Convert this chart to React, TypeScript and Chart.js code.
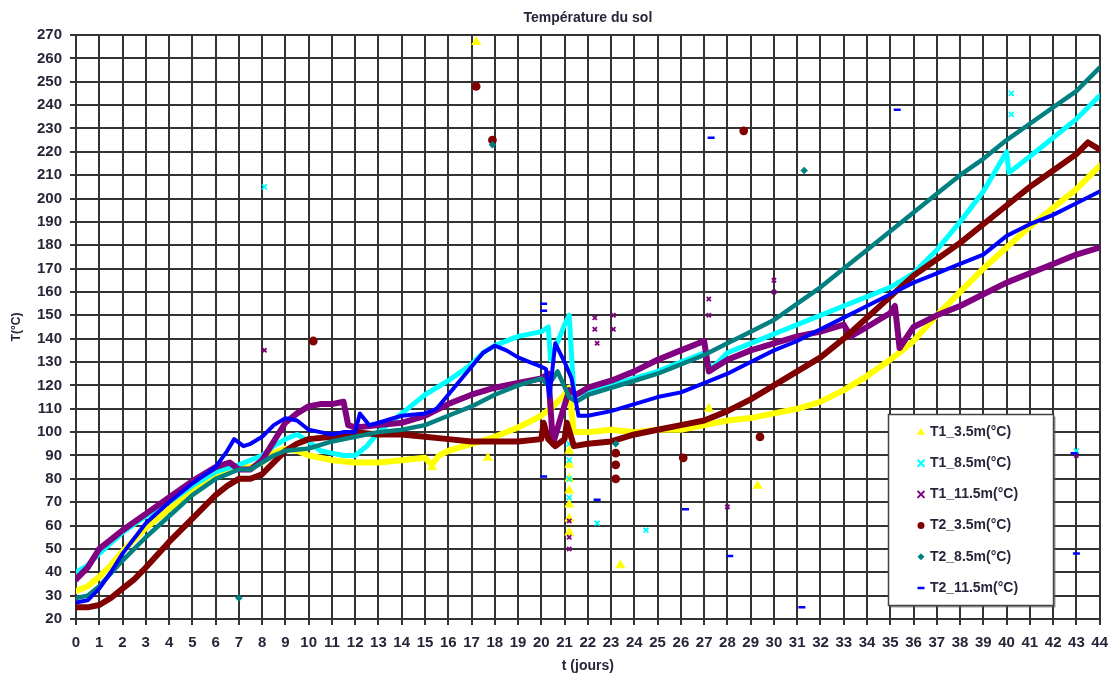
import React, { useEffect, useRef } from 'react';
import { Chart, registerables } from 'chart.js';

Chart.register(...registerables);

// ---------- Data ----------
const chartTitle = 'Température du sol';
const xAxisTitle = 't (jours)';
const yAxisTitle = 'T(°C)';
const seriesNames = ['T1_3.5m(°C)', 'T1_8.5m(°C)', 'T1_11.5m(°C)', 'T2_3.5m(°C)', 'T2_8.5m(°C)', 'T2_11.5m(°C)'];
const seriesColors = ['#ffff00', '#00ffff', '#800080', '#800000', '#008080', '#0000ff'];

// T1_3.5m
const t1a_days = [0, 0.5, 1, 1.5, 2, 2.5, 3, 3.5, 4, 4.5, 5, 5.5, 6, 6.5, 7, 7.5, 8, 8.5, 9, 9.5, 10, 10.5, 11, 12, 13, 14, 15, 15.3, 15.6, 16, 17, 18, 19, 20, 20.5, 21, 21.2, 21.4, 22, 23, 24, 25, 26, 27, 28, 29, 30, 31, 32, 33, 34, 35, 35.4, 36, 37, 38, 39, 40, 41, 42, 43, 44];
const t1a_vals = [32, 34, 38, 43, 49, 54, 59, 63, 67, 71, 75, 78, 81, 83, 85, 85, 87, 91, 93, 92, 90, 89, 88, 87, 87, 88, 89, 86, 90, 92, 95, 98, 102, 107, 111, 116, 119, 100, 100, 101, 100, 101, 101, 103, 105, 106, 108, 110, 113, 118, 124, 131, 134, 139, 150, 160, 170, 179, 188, 196, 204, 214];
// T1_8.5m
const t1b_days = [0, 0.5, 1, 2, 3, 4, 5, 6, 7, 8, 8.5, 9, 9.5, 10, 10.5, 11, 11.5, 12, 12.5, 13, 13.5, 14, 14.5, 15, 16, 17, 17.5, 18, 19, 20, 20.3, 20.4, 21, 21.2, 21.4, 22, 23, 24, 25, 26, 27, 27.3, 28, 29, 30, 31, 32, 33, 34, 35, 36, 37, 38, 39, 40, 40.1, 41, 42, 43, 44];
const t1b_vals = [40, 43, 48, 57, 64, 70, 77, 83, 86, 90, 94, 97, 99, 96, 92, 91, 90, 90, 94, 100, 104, 108, 112, 116, 122, 129, 134, 137, 141, 143, 145, 131, 146, 150, 116, 117, 120, 123, 126, 130, 134, 127, 134, 138, 142, 146, 150, 154, 158, 162, 168, 178, 190, 203, 220, 211, 218, 226, 234, 244];
// T1_11.5m
const t1c_days = [0, 0.5, 1, 1.5, 2, 3, 4, 5, 6, 6.6, 7, 7.5, 8, 8.5, 9, 9.5, 10, 10.5, 11, 11.5, 11.7, 12, 13, 14, 15, 16, 17, 18, 19, 20, 20.3, 20.5, 20.8, 21.2, 21.5, 22, 23, 24, 25, 26, 27, 27.2, 28, 29, 30, 31, 32, 33, 33.3, 34, 35, 35.2, 35.4, 36, 37, 38, 39, 40, 41, 42, 43, 44];
const t1c_vals = [37, 42, 50, 54, 58, 65, 72, 79, 85, 87, 84, 84, 88, 96, 104, 108, 111, 112, 112, 113, 103, 102, 103, 104, 107, 112, 116, 119, 121, 123, 125, 95, 105, 118, 116, 119, 122, 126, 131, 135, 139, 126, 131, 135, 138, 141, 143, 146, 141, 145, 151, 154, 136, 145, 150, 154, 159, 164, 168, 172, 176, 179];
// T2_3.5m
const t2a_days = [0, 0.5, 1, 1.5, 2, 2.5, 3, 4, 5, 6, 6.5, 7, 7.5, 8, 8.5, 9, 9.5, 10, 11, 12, 13, 14, 15, 16, 17, 18, 19, 20, 20.1, 20.3, 20.6, 21, 21.1, 21.4, 22, 23, 24, 25, 26, 27, 28, 29, 30, 31, 32, 33, 34, 35, 36, 37, 38, 39, 40, 41, 42, 43, 43.5, 44];
const t2a_vals = [25, 25, 26, 29, 33, 37, 42, 53, 63, 73, 77, 80, 80, 82, 87, 92, 95, 97, 98, 100, 99, 99, 98, 97, 96, 96, 96, 97, 104, 97, 94, 97, 104, 94, 95, 96, 99, 101, 103, 105, 109, 114, 120, 126, 132, 140, 149, 158, 167, 174, 181, 189, 197, 205, 212, 219, 224, 221];
// T2_8.5m
const t2b_days = [0, 0.5, 1, 2, 3, 4, 5, 6, 7, 7.5, 8, 8.5, 9, 10, 11, 12, 13, 14, 15, 16, 17, 18, 19, 20, 20.3, 20.7, 21.2, 21.5, 22, 23, 24, 25, 26, 27, 28, 29, 30, 31, 32, 33, 34, 35, 36, 37, 38, 39, 40, 41, 42, 43, 44];
const t2b_vals = [29, 30, 34, 45, 55, 64, 73, 80, 84, 84, 87, 90, 92, 93, 96, 98, 100, 101, 103, 107, 111, 116, 120, 123, 120, 126, 115, 113, 116, 119, 122, 125, 129, 133, 138, 143, 148, 155, 162, 170, 178, 186, 194, 202, 210, 217, 225, 232, 239, 246, 256];
// T2_11.5m
const t2c_days = [0, 0.5, 1, 1.5, 2, 3, 4, 5, 6, 6.5, 6.8, 7.2, 7.5, 8, 8.5, 9, 9.5, 10, 10.5, 11, 11.5, 12, 12.2, 12.6, 13, 14, 15, 15.5, 16, 16.5, 17, 17.5, 18, 18.5, 19, 19.5, 20, 20.2, 20.35, 20.6, 21, 21.3, 21.6, 22, 23, 24, 25, 26, 27, 28, 29, 30, 31, 32, 33, 34, 35, 36, 37, 38, 39, 40, 41, 42, 43, 44];
const t2c_vals = [27, 28, 33, 40, 48, 61, 70, 78, 85, 92, 97, 94, 95, 98, 103, 106, 105, 101, 100, 99, 100, 100, 108, 103, 104, 107, 108, 110, 116, 122, 128, 134, 137, 135, 132, 130, 128, 127, 115, 138, 130, 123, 107, 107, 109, 112, 115, 117, 121, 125, 130, 135, 139, 144, 149, 154, 159, 164, 168, 172, 176, 184, 189, 193, 198, 203];

// Isolated points (outliers)
const t1a_outX = [15.3, 17.2, 17.7, 21.2, 21.2, 21.2, 21.2, 21.2, 21.2, 21.2, 23.4, 27.2, 29.3];
const t1a_outY = [85, 267, 89, 92, 86, 80, 75, 69, 63, 57, 43, 110, 77];
const t1b_outX = [8.1, 21.2, 21.2, 21.2, 21.2, 22.4, 24.5, 40.2, 40.2, 43.0];
const t1b_outY = [205, 95, 88, 80, 72, 61, 58, 245, 236, 92];
const t1c_outX = [8.1, 21.2, 21.2, 21.2, 22.3, 22.3, 22.4, 23.1, 23.1, 27.2, 27.2, 28.0, 30.0, 30.0, 43.0];
const t1c_outY = [135, 50, 55, 62, 149, 144, 138, 150, 144, 157, 150, 68, 165, 160, 90];
const t2a_outX = [10.2, 17.2, 17.9, 23.2, 23.2, 23.2, 26.1, 28.7, 29.4];
const t2a_outY = [139, 248, 225, 80, 86, 91, 89, 229, 98];
const t2b_outX = [7.0, 17.9, 23.2, 31.3];
const t2b_outY = [29, 223, 95, 212];
const t2c_outX = [20.1, 20.1, 20.1, 22.4, 26.2, 27.3, 28.1, 31.2, 35.3, 42.9, 43.0];
const t2c_outY = [155, 152, 81, 71, 67, 226, 47, 25, 238, 91, 48];

const xMin = 0, xMax = 44, xStep = 1;
const yMin = 20, yMax = 270, yStep = 10;

// ---------- Styles ----------
const lineWidths = [6, 5, 6, 6, 4.5, 4];
const pointStyles = ['triangle', 'crossRot', 'crossRot', 'circle', 'rectRot', 'line'];
const pointRadii = [4, 3.5, 3, 3.5, 2.5, 3.5];
const drawOrder = [5, 4, 3, 2, 1, 0];
const FONT = "'Liberation Sans', Arial, sans-serif";
const TEXT_COLOR = '#26263a';
const GRID_COLOR = '#333333';

function pts(xs: number[], ys: number[]) {
  return xs.map((x, i) => ({ x, y: ys[i] }));
}

function drawMarker(ctx: CanvasRenderingContext2D, style: string, x: number, y: number, r: number, color: string) {
  ctx.save();
  ctx.fillStyle = color;
  ctx.strokeStyle = color;
  ctx.lineWidth = 2;
  ctx.beginPath();
  if (style === 'triangle') {
    ctx.moveTo(x, y - r * 1.2);
    ctx.lineTo(x + r * 1.1, y + r * 0.8);
    ctx.lineTo(x - r * 1.1, y + r * 0.8);
    ctx.closePath();
    ctx.fill();
  } else if (style === 'crossRot') {
    ctx.moveTo(x - r, y - r); ctx.lineTo(x + r, y + r);
    ctx.moveTo(x + r, y - r); ctx.lineTo(x - r, y + r);
    ctx.stroke();
  } else if (style === 'circle') {
    ctx.arc(x, y, r, 0, Math.PI * 2);
    ctx.fill();
  } else if (style === 'rectRot') {
    ctx.moveTo(x, y - r); ctx.lineTo(x + r, y); ctx.lineTo(x, y + r); ctx.lineTo(x - r, y);
    ctx.closePath();
    ctx.fill();
  } else {
    ctx.lineWidth = 2.5;
    ctx.moveTo(x - r, y); ctx.lineTo(x + r, y);
    ctx.stroke();
  }
  ctx.restore();
}

const extrasPlugin = {
  id: 'extras',
  afterDraw(chart: any) {
    const ctx = chart.ctx as CanvasRenderingContext2D;
    const area = chart.chartArea;
    ctx.save();
    // title
    ctx.fillStyle = TEXT_COLOR;
    ctx.font = `bold 14px ${FONT}`;
    ctx.textAlign = 'center';
    ctx.textBaseline = 'middle';
    ctx.fillText(chartTitle, (area.left + area.right) / 2, 18);
    // legend box
    const bx = 888.5, by = 414.5, bw = 165, bh = 191;
    ctx.fillStyle = 'rgba(80,80,80,0.6)';
    ctx.fillRect(bx + 2, by + 2, bw, bh);
    ctx.fillStyle = '#ffffff';
    ctx.fillRect(bx, by, bw, bh);
    ctx.strokeStyle = '#444';
    ctx.lineWidth = 1.5;
    ctx.strokeRect(bx, by, bw, bh);
    ctx.font = `bold 14px ${FONT}`;
    ctx.textAlign = 'left';
    ctx.textBaseline = 'middle';
    seriesNames.forEach((name, i) => {
      const y = 432 + i * 31.2;
      drawMarker(ctx, pointStyles[i], 921, y, 3.5, seriesColors[i]);
      ctx.fillStyle = TEXT_COLOR;
      ctx.fillText(name, 930, y);
    });
    ctx.restore();
  },
};

export default function App() {
  const ref = useRef<HTMLCanvasElement>(null);
  useEffect(() => {
    if (!ref.current) return;
    const lines = [
      [t1a_days, t1a_vals], [t1b_days, t1b_vals], [t1c_days, t1c_vals],
      [t2a_days, t2a_vals], [t2b_days, t2b_vals], [t2c_days, t2c_vals],
    ];
    const outs = [
      [t1a_outX, t1a_outY], [t1b_outX, t1b_outY], [t1c_outX, t1c_outY],
      [t2a_outX, t2a_outY], [t2b_outX, t2b_outY], [t2c_outX, t2c_outY],
    ];
    const datasets: any[] = [];
    lines.forEach(([xs, ys], i) => {
      datasets.push({
        label: seriesNames[i],
        data: pts(xs, ys),
        showLine: true,
        borderColor: seriesColors[i],
        backgroundColor: seriesColors[i],
        borderWidth: lineWidths[i],
        pointRadius: 0,
        tension: 0,
        borderJoinStyle: 'round',
        borderCapStyle: 'round',
        order: drawOrder[i],
      });
    });
    outs.forEach(([xs, ys], i) => {
      datasets.push({
        label: seriesNames[i] + ' ',
        data: pts(xs, ys),
        showLine: false,
        borderColor: seriesColors[i],
        backgroundColor: seriesColors[i],
        pointStyle: pointStyles[i],
        pointRadius: pointRadii[i],
        pointBorderWidth: pointStyles[i] === 'line' ? 2.5 : 1.8,
        order: drawOrder[i],
      });
    });

    const tickFont = { family: FONT, size: 15, weight: 'bold' as const };
    const chart = new Chart(ref.current, {
      type: 'scatter',
      data: { datasets },
      options: {
        responsive: false,
        animation: false,
        devicePixelRatio: 1,
        layout: { padding: { top: 35, right: 14, bottom: 0, left: 0 } },
        plugins: {
          legend: { display: false },
          tooltip: { enabled: false },
          title: { display: false },
        },
        scales: {
          x: {
            type: 'linear',
            min: xMin,
            max: xMax,
            afterFit: (s: any) => { s.height = 60; },
            ticks: { stepSize: xStep, autoSkip: false, maxRotation: 0, color: TEXT_COLOR, font: tickFont, padding: 9 },
            grid: { color: GRID_COLOR, lineWidth: 2, tickLength: 6, tickColor: GRID_COLOR, tickWidth: 2 },
            border: { color: GRID_COLOR, width: 2 },
            title: { display: true, text: xAxisTitle, color: TEXT_COLOR, font: { family: FONT, size: 14, weight: 'bold' }, padding: { top: 0, bottom: 4 } },
          },
          y: {
            type: 'linear',
            min: yMin,
            max: yMax,
            afterFit: (s: any) => { s.width = 76; },
            ticks: { stepSize: yStep, autoSkip: false, color: TEXT_COLOR, font: tickFont, padding: 8 },
            grid: { color: GRID_COLOR, lineWidth: 2, tickLength: 6, tickColor: GRID_COLOR, tickWidth: 2 },
            border: { color: GRID_COLOR, width: 2 },
            title: { display: true, text: yAxisTitle, color: TEXT_COLOR, font: { family: FONT, size: 12, weight: 'bold' }, padding: { top: 9, bottom: 0 } },
          },
        },
      },
      plugins: [extrasPlugin],
    });
    return () => chart.destroy();
  }, []);

  return (
    <div style={{ position: 'fixed', left: 0, top: 0, width: 1117, height: 679, background: '#ffffff' }}>
      <canvas ref={ref} width={1117} height={679} style={{ width: 1117, height: 679, display: 'block' }} />
    </div>
  );
}
